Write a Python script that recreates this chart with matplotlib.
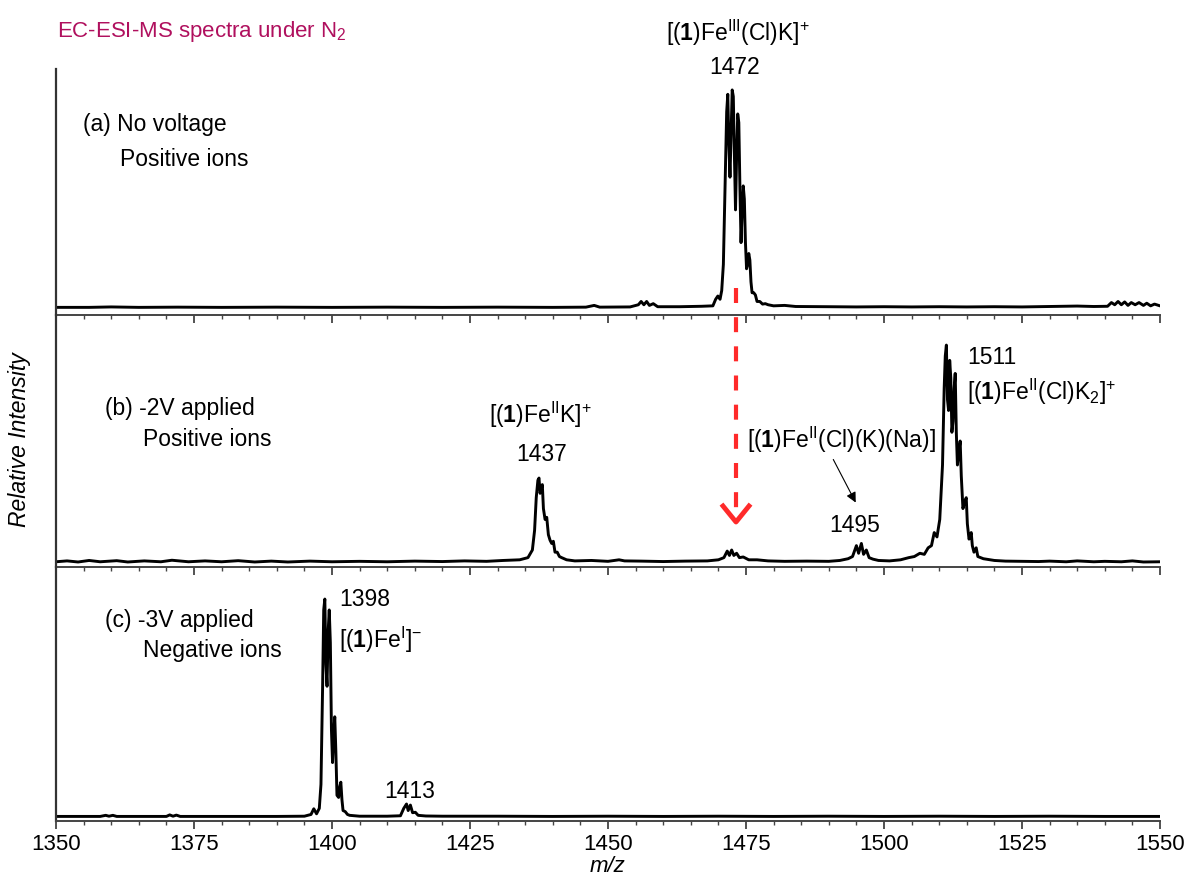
import matplotlib
matplotlib.use("Agg")
import matplotlib.pyplot as plt
from matplotlib.lines import Line2D

plt.rcParams['font.family'] = ['Liberation Sans', 'DejaVu Sans']
plt.rcParams['mathtext.fontset'] = 'custom'
plt.rcParams['mathtext.rm'] = 'Liberation Sans'
plt.rcParams['mathtext.bf'] = 'Liberation Sans:bold'
plt.rcParams['mathtext.it'] = 'Liberation Sans:italic'

# spectrum traces (m/z, relative intensity, 100 = tallest peak)
mz_a = [1350, 1356, 1360, 1365, 1372, 1380, 1390, 1400, 1410, 1420, 1430, 1440, 1446, 1447.5, 1448.5,
        1454, 1455.5, 1456.0, 1456.5, 1457.0, 1457.5, 1458.2, 1459, 1463, 1467, 1469.0, 1469.5, 1469.9,
        1470.3, 1470.6, 1470.9, 1471.2, 1471.5, 1471.7, 1471.9, 1472.1, 1472.3, 1472.5, 1472.7, 1472.9,
        1473.1, 1473.3, 1473.5, 1473.7, 1473.9, 1474.1, 1474.3, 1474.5, 1474.7, 1474.9, 1475.1, 1475.3,
        1475.5, 1475.7, 1475.9, 1476.1, 1476.4, 1476.7, 1477.0, 1477.5, 1478.0, 1478.5, 1479, 1480, 1482,
        1484, 1490, 1495, 1500, 1505, 1510, 1515, 1520, 1525, 1530, 1535, 1538, 1540.5, 1541.2, 1541.8,
        1542.4, 1543.0, 1543.6, 1544.2, 1544.8, 1545.5, 1546.2, 1547, 1547.6, 1548.3, 1549, 1550]
int_a = [0.3, 0.3, 0.5, 0.3, 0.4, 0.3, 0.4, 0.3, 0.4, 0.3, 0.4, 0.3, 0.4, 1.2, 0.4,
         0.5, 1.5, 3, 1.5, 3, 1.2, 2, 0.6, 0.6, 0.8, 1, 4, 5.5,
         4, 8, 20, 55, 90, 98, 75, 60, 80, 100, 97, 70,
         45, 70, 89, 85, 55, 30, 45, 56, 50, 30, 18, 20,
         25, 22, 12, 7, 7, 6, 3, 3, 1.8, 2, 1.5, 1.0, 1.2,
         0.7, 0.6, 0.5, 0.6, 0.5, 0.6, 0.5, 0.6, 0.5, 0.7, 0.9, 0.7, 0.8, 2.5, 1.5,
         3, 1.5, 2.8, 1.2, 2.5, 1.5, 2.5, 1.2, 2.2, 1.0, 1.8, 1.0]

mz_b = [1350, 1352, 1354, 1356, 1358, 1361, 1363, 1366, 1369, 1371, 1374, 1377, 1380, 1383, 1386, 1389,
        1392, 1396, 1400, 1405, 1410, 1415, 1420, 1424, 1428, 1431, 1434, 1435.5, 1436.3, 1436.7, 1437.0,
        1437.3, 1437.5, 1437.7, 1437.9, 1438.1, 1438.3, 1438.6, 1438.9, 1439.2, 1439.5, 1439.8, 1440.1,
        1440.4, 1440.8, 1441.2, 1441.6, 1442.5, 1444, 1447, 1450, 1452, 1453, 1456, 1460, 1464, 1468, 1470,
        1471.0, 1471.6, 1472.0, 1472.4, 1472.8, 1473.3, 1473.8, 1474.5, 1475.5, 1477, 1479, 1482, 1486,
        1490, 1492, 1493.5, 1494.3, 1495.0, 1495.4, 1495.9, 1496.3, 1496.8, 1497.3, 1498, 1499, 1501,
        1503, 1504.5, 1505.5, 1506.5, 1507.3, 1508.0, 1508.6, 1509.1, 1509.6, 1510.1, 1510.6, 1510.9,
        1511.1, 1511.3, 1511.5, 1511.7, 1511.9, 1512.1, 1512.3, 1512.5, 1512.7, 1512.9, 1513.1, 1513.3,
        1513.5, 1513.8, 1514.0, 1514.3, 1514.6, 1514.9, 1515.1, 1515.4, 1515.6, 1515.8, 1516.0, 1516.3,
        1516.5, 1516.7, 1517.0, 1517.5, 1518, 1520, 1522, 1525, 1528, 1530, 1533, 1535, 1538, 1540,
        1543, 1545, 1547, 1550]
int_b = [0.6, 1.0, 0.5, 1.2, 0.6, 1.1, 0.5, 1.0, 0.6, 1.3, 0.6, 1.0, 0.6, 1.1, 0.5, 0.9,
         0.5, 0.9, 0.6, 0.8, 0.6, 0.9, 0.7, 1.0, 0.8, 1.2, 1.5, 2.5, 6, 15, 30,
         38, 39, 32, 34, 36, 25, 20, 21, 13, 10.5, 9, 10,
         5, 5, 3, 2.5, 1.5, 1.0, 1.2, 0.8, 1.5, 1.0, 0.9, 0.7, 0.9, 1.0, 1.5,
         2.5, 5.5, 3.5, 6, 3.5, 4.5, 2.5, 2.8, 1.5, 1.5, 1.0, 0.8, 0.9,
         0.8, 1.2, 2, 3, 8, 4.5, 9, 4, 6, 2.5, 1.8, 1.2, 1.0,
         1.5, 2.5, 3, 4.5, 4, 7, 8, 14, 12, 20, 45, 80,
         95, 100, 75, 70, 93, 85, 60, 65, 80, 87, 60, 45,
         50, 56, 40, 25, 28, 30, 18, 11, 12, 14, 8, 5,
         6, 7, 3, 2.5, 2, 1.2, 0.9, 0.8, 0.7, 0.9, 0.6, 1.0, 0.6, 0.8,
         0.6, 1.0, 0.5, 0.6]

mz_c = [1350, 1358, 1359, 1359.6, 1360.3, 1361, 1370, 1370.6, 1371.2, 1371.8, 1372.5, 1380, 1390, 1395,
        1396.2, 1396.7, 1397.2, 1397.7, 1398.0, 1398.3, 1398.5, 1398.7, 1398.9, 1399.1, 1399.3, 1399.5,
        1399.7, 1399.9, 1400.1, 1400.3, 1400.5, 1400.7, 1400.9, 1401.2, 1401.4, 1401.6, 1401.8, 1402.0,
        1402.4, 1402.8, 1403.2, 1405, 1410, 1412.4, 1413.0, 1413.5, 1413.8, 1414.2, 1414.6, 1415.1,
        1415.6, 1417, 1420, 1430, 1440, 1450, 1460, 1470, 1480, 1490, 1500, 1510, 1520, 1530, 1540, 1550]
int_c = [0.3, 0.3, 0.8, 0.4, 0.8, 0.3, 0.3, 1.0, 0.4, 0.9, 0.3, 0.3, 0.3, 0.4,
         1.2, 3.8, 1.5, 4, 15, 60, 95, 100, 70, 60, 85, 95,
         80, 40, 25, 38, 46, 30, 10, 9, 14, 16, 8, 3,
         2.5, 1.2, 0.8, 0.4, 0.4, 0.6, 4, 6, 3, 5.5, 2, 2.2,
         0.8, 0.5, 0.4, 0.4, 0.3, 0.4, 0.3, 0.4, 0.3, 0.4, 0.3, 0.4, 0.3, 0.4, 0.3, 0.3]

W, H = 1190, 881
fig = plt.figure(figsize=(W / 100, H / 100), dpi=100)
gs = fig.add_gridspec(3, 1, height_ratios=[246, 252, 254], hspace=0,
                      left=56 / W, right=1160 / W, top=1 - 69 / H, bottom=1 - 821 / H)
axes = [fig.add_subplot(gs[i]) for i in range(3)]
ylims = [(-3.2, 109.6), (-1.8, 113.8), (-1.8, 114.7)]

for ax, mz, inten, yl in zip(axes, [mz_a, mz_b, mz_c], [int_a, int_b, int_c], ylims):
    ax.plot(mz, inten, color='black', lw=2.1)
    ax.set_xlim(1350, 1550)
    ax.set_ylim(*yl)
    ax.set_yticks([])
    for s in ['top', 'right']:
        ax.spines[s].set_visible(False)
    ax.spines['left'].set_linewidth(1.6)
    ax.spines['left'].set_color('#333333')
    ax.spines['bottom'].set_linewidth(1.4)
    ax.spines['bottom'].set_color('#444444')
    ax.set_xticks(range(1350, 1551, 25))
    ax.set_xticks(range(1350, 1551, 5), minor=True)
    ax.tick_params(axis='x', which='major', direction='out', length=6, width=1.3, color='#444444')
    ax.tick_params(axis='x', which='minor', direction='out', length=3, width=1.0, color='#444444')
    ax.patch.set_visible(False)

for ax in axes[:2]:
    ax.tick_params(axis='x', labelbottom=False)
axes[2].tick_params(axis='x', labelsize=16, pad=3)


def px(x, y):
    return x / W, 1 - y / H


fs = 16.5
fig.text(*px(57, 32), r'EC-ESI-MS spectra under N$_2$', color='#B0105E', fontsize=16, va='center')

fig.text(*px(83, 125), '(a) No voltage', fontsize=fs, va='center')
fig.text(*px(120, 160), 'Positive ions', fontsize=fs, va='center')
fig.text(*px(105, 408), '(b) -2V applied', fontsize=fs, va='center')
fig.text(*px(143, 440), 'Positive ions', fontsize=fs, va='center')
fig.text(*px(105, 621), '(c) -3V applied', fontsize=fs, va='center')
fig.text(*px(143, 651), 'Negative ions', fontsize=fs, va='center')

fig.text(*px(738, 33), r'[($\mathbf{1}$)Fe$^{\mathrm{III}}$(Cl)K]$^{+}$', fontsize=fs, ha='center', va='center')
fig.text(*px(735, 68), '1472', fontsize=fs, ha='center', va='center')

fig.text(*px(540, 415), r'[($\mathbf{1}$)Fe$^{\mathrm{II}}$K]$^{+}$', fontsize=fs, ha='center', va='center')
fig.text(*px(542, 455), '1437', fontsize=fs, ha='center', va='center')

fig.text(*px(967, 357), '1511', fontsize=fs, ha='left', va='center')
fig.text(*px(967, 392), r'[($\mathbf{1}$)Fe$^{\mathrm{II}}$(Cl)K$_2$]$^{+}$', fontsize=fs, ha='left', va='center')

fig.text(*px(747, 440), r'[($\mathbf{1}$)Fe$^{\mathrm{II}}$(Cl)(K)(Na)]', fontsize=fs, ha='left', va='center')
fig.text(*px(855, 526), '1495', fontsize=fs, ha='center', va='center')

fig.text(*px(339, 600), '1398', fontsize=fs, ha='left', va='center')
fig.text(*px(339, 640), r'[($\mathbf{1}$)Fe$^{\mathrm{I}}$]$^{-}$', fontsize=fs, ha='left', va='center')
fig.text(*px(410, 792), '1413', fontsize=fs, ha='center', va='center')

fig.text(*px(20, 440), 'Relative Intensity', fontsize=fs, style='italic', rotation=90, ha='center', va='center')
fig.text(*px(608, 866), 'm/z', fontsize=16, style='italic', ha='center', va='center')

# thin black pointer arrow to the 1495 peak
fig.add_artist(matplotlib.patches.FancyArrowPatch(px(832, 457), px(857, 505), transform=fig.transFigure,
                                                  arrowstyle='-|>,head_length=6,head_width=3',
                                                  color='black', lw=0.8))

# red dashed guide from panel (a) to panel (b)
x0, y0 = px(736, 288)
x1, y1 = px(736, 512)
fig.add_artist(Line2D([x0, x1], [y0, y1], transform=fig.transFigure, color='#FF2A2A', lw=3,
                      linestyle=(0, (3.6, 3.4))))
head = [px(723, 506), px(736, 522), px(749, 506)]
fig.add_artist(Line2D([p[0] for p in head], [p[1] for p in head], transform=fig.transFigure,
                      color='#FF2A2A', lw=3.5))

fig.savefig('out.png', dpi=100)
